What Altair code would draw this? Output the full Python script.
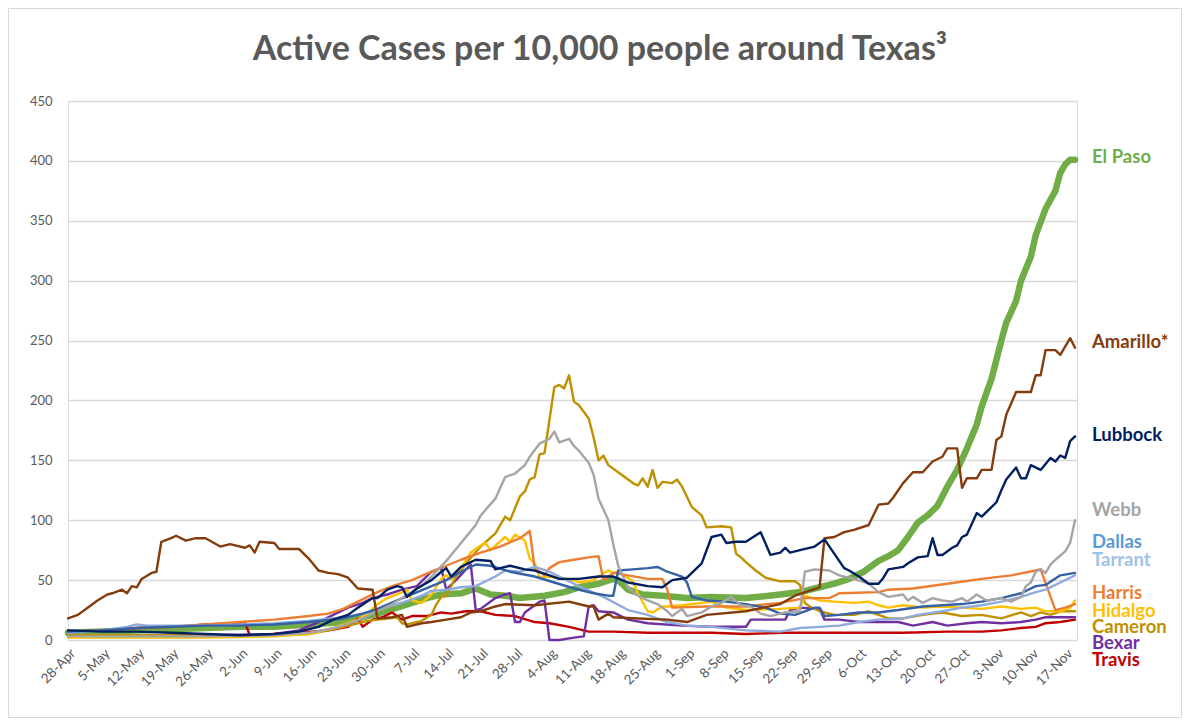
import json
import altair as alt
import pandas as pd

# ---------------- data ----------------
title_text = "Active Cases per 10,000 people around Texas³"
tick_days = [0, 7, 14, 21, 28, 35, 42, 49, 56, 63, 70, 77, 84, 91, 98, 105, 112, 119,
             126, 133, 140, 147, 154, 161, 168, 175, 182, 189, 196, 203]
tick_labels = ["28-Apr", "5-May", "12-May", "19-May", "26-May", "2-Jun", "9-Jun", "16-Jun",
               "23-Jun", "30-Jun", "7-Jul", "14-Jul", "21-Jul", "28-Jul", "4-Aug", "11-Aug",
               "18-Aug", "25-Aug", "1-Sep", "8-Sep", "15-Sep", "22-Sep", "29-Sep", "6-Oct",
               "13-Oct", "20-Oct", "27-Oct", "3-Nov", "10-Nov", "17-Nov"]
y_ticks = [0, 50, 100, 150, 200, 250, 300, 350, 400, 450]

series_names = ["El Paso", "Amarillo*", "Lubbock", "Webb", "Dallas", "Tarrant",
                "Harris", "Hidalgo", "Cameron", "Bexar", "Travis"]

# days since 28-Apr, active cases per 10,000
elpaso_day = [0, 7, 14, 21, 28, 35, 42, 49, 56, 60, 63, 67, 70, 73, 76, 80, 83, 86, 89, 92,
              97, 101, 104, 108, 111, 112, 114, 117, 121, 126, 131, 138, 145, 149, 152, 156,
              159, 162, 165, 167, 169, 171, 173, 175, 177, 179, 181, 183, 185, 186, 188, 190,
              191, 193, 194, 196, 197, 199, 201, 202, 203, 204, 205]
elpaso_val = [6, 7, 8, 9, 10, 11, 11, 13, 15, 19, 22, 27, 31, 35, 38, 39, 43, 38, 37, 35,
              37, 40, 44, 47, 51, 50, 42, 38, 37, 35, 36, 35, 38, 40, 43, 47,
              51, 57, 66, 70, 75, 86, 98, 104, 112, 128, 142, 160, 180, 195, 218, 250,
              265, 283, 300, 320, 338, 360, 375, 390, 397, 401, 401]

amarillo_day = [0, 2, 4, 6, 8, 9, 11, 12, 13, 14, 15, 17, 18, 19, 21, 22, 24, 26, 28, 31,
                33, 36, 37, 38, 39, 42, 43, 47, 49, 51, 53, 55, 57, 59, 62, 63, 66, 68, 69,
                72, 74, 77, 80, 82, 84, 87, 89, 95, 102, 106, 107, 108, 110, 111, 116, 122,
                126, 130, 138, 145, 148, 153, 154, 156, 158, 160, 163, 165, 167, 168, 170,
                172, 174, 176, 178, 179, 181, 182, 183, 185, 186, 188, 189, 190, 191, 193,
                196, 197, 198, 199, 201, 202, 204, 205]
amarillo_val = [18, 21, 27, 33, 38, 39, 42, 39, 45, 44, 51, 56, 57, 82, 85, 87, 83, 85, 85, 78,
                80, 77, 79, 73, 82, 81, 76, 76, 68, 58, 56, 55, 52, 43, 42, 18, 19, 21, 11,
                14, 15, 17, 19, 23, 24, 28, 30, 29, 32, 28, 28, 17, 22, 19, 18, 17,
                15, 21, 24, 30, 37, 44, 85, 86, 90, 92, 96, 113, 114, 119, 131,
                140, 140, 149, 153, 160, 160, 127, 135, 135, 142, 142, 167, 170, 188, 207,
                207, 221, 221, 242, 242, 238, 252, 244]

lubbock_day = [0, 7, 14, 21, 28, 35, 42, 47, 51, 54, 57, 59, 62, 63, 65, 67, 68, 69, 71, 74,
               76, 77, 78, 80, 83, 86, 87, 90, 93, 95, 98, 100, 104, 108, 111, 114, 118, 121,
               123, 126, 129, 131, 133, 134, 136, 138, 141, 143, 145, 146, 147, 149, 152, 154,
               155, 158, 159, 161, 163, 165, 166, 167, 170, 171, 173, 175, 176, 177, 178, 180,
               181, 182, 183, 185, 186, 187, 189, 190, 191, 193, 194, 195, 196, 198, 200, 201,
               202, 203, 204, 205]
lubbock_val = [8, 7, 7, 6, 5, 4, 5, 7, 11, 17, 21, 27, 35, 35, 42, 45, 44, 36, 43, 50,
               57, 60, 53, 61, 67, 66, 59, 62, 59, 58, 54, 51, 51, 53, 53, 48, 45, 44,
               50, 52, 64, 86, 88, 81, 82, 82, 90, 71, 73, 77, 73, 75, 78, 84,
               78, 60, 58, 53, 47, 47, 52, 59, 61, 64, 69, 70, 85, 71, 71, 77,
               79, 86, 88, 106, 103, 107, 115, 125, 134, 144, 135, 135, 146, 142, 152, 149,
               154, 152, 166, 170]

webb_day = [0, 14, 28, 42, 49, 53, 56, 60, 63, 66, 68, 70, 72, 74, 77, 80, 83, 84, 87, 89,
            91, 93, 94, 96, 98, 99, 100, 102, 103, 104, 106, 107, 108, 110, 111, 112, 114,
            116, 118, 120, 122, 123, 125, 126, 129, 131, 133, 135, 137, 139, 141, 143, 146,
            149, 150, 152, 155, 157, 160, 163, 165, 167, 170, 171, 172, 174, 176, 178, 180,
            182, 183, 185, 187, 190, 192, 194, 195, 196, 197, 198, 199, 200, 201, 203, 204, 205]
webb_val = [3, 3, 3, 4, 6, 9, 12, 18, 24, 30, 35, 40, 45, 53, 66, 81, 96, 104, 118, 136,
            139, 146, 153, 164, 168, 174, 165, 168, 162, 158, 148, 138, 118, 100, 80, 62, 44,
            37, 33, 30, 24, 20, 26, 20, 23, 28, 31, 36, 29, 28, 22, 20, 23,
            24, 57, 59, 58, 54, 51, 47, 40, 36, 38, 33, 36, 31, 35, 33, 32,
            35, 32, 38, 33, 35, 32, 36, 45, 48, 57, 59, 56, 63, 67, 74, 81, 100]

dallas_day = [0, 7, 14, 21, 28, 35, 42, 49, 56, 60, 63, 67, 70, 74, 77, 80, 83, 86, 90, 95,
              99, 103, 107, 110, 111, 112, 115, 118, 120, 122, 125, 126, 127, 130, 134, 138,
              142, 145, 148, 150, 152, 153, 154, 157, 161, 165, 169, 174, 178, 182, 186, 190,
              194, 197, 199, 202, 205]
dallas_val = [7, 8, 10, 11, 12, 12, 13, 15, 18, 22, 26, 33, 38, 45, 50, 57, 63, 62, 57, 53,
              48, 43, 39, 37, 37, 58, 59, 60, 61, 57, 53, 48, 36, 33, 32, 30,
              27, 22, 21, 24, 27, 27, 20, 21, 23, 23, 25, 28, 29, 30, 32, 35,
              39, 45, 46, 54, 56]

tarrant_day = [0, 7, 12, 14, 16, 21, 28, 35, 42, 49, 56, 60, 63, 67, 70, 72, 74, 77, 80, 83,
               87, 89, 92, 95, 98, 101, 105, 109, 114, 118, 122, 126, 131, 138, 145, 149, 153,
               157, 161, 165, 170, 173, 178, 182, 186, 190, 194, 197, 199, 202, 205]
tarrant_val = [6, 8, 11, 13, 12, 12, 12, 13, 14, 16, 19, 22, 25, 30, 34, 37, 41, 42, 44, 45,
               53, 58, 57, 61, 57, 51, 43, 36, 25, 21, 15, 12, 11, 8, 7, 10, 11,
               12, 15, 17, 18, 21, 24, 27, 29, 32, 36, 40, 42, 48, 54]

harris_day = [0, 7, 14, 21, 28, 35, 42, 49, 53, 56, 59, 63, 66, 70, 74, 77, 80, 84, 88, 92,
              94, 95, 97, 98, 100, 103, 106, 108, 109, 111, 114, 118, 121, 122, 123, 130, 138,
              145, 150, 155, 157, 165, 167, 172, 179, 186, 192, 197, 198, 201, 203, 205]
harris_val = [7, 8, 10, 11, 13, 15, 17, 20, 22, 26, 32, 40, 45, 50, 57, 62, 67, 73, 78, 85,
              91, 60, 54, 60, 65, 67, 69, 70, 50, 56, 54, 51, 51, 42, 27, 28, 28,
              31, 35, 35, 39, 40, 42, 43, 47, 51, 54, 58, 59, 25, 27, 30]

hidalgo_day = [0, 14, 28, 42, 49, 54, 59, 61, 63, 65, 67, 69, 70, 72, 74, 76, 77, 78, 80, 82,
               84, 85, 86, 89, 90, 91, 93, 94, 95, 96, 98, 100, 103, 104, 107, 108, 110, 111,
               112, 115, 116, 118, 119, 121, 122, 125, 129, 131, 134, 138, 145, 149, 150, 153,
               156, 160, 163, 165, 167, 170, 174, 178, 182, 186, 190, 194, 197, 199, 202, 204, 205]
hidalgo_val = [2, 2, 2, 3, 5, 10, 17, 22, 30, 35, 38, 42, 33, 31, 38, 51, 54, 51, 60, 73,
               79, 81, 75, 86, 82, 88, 83, 68, 64, 52, 53, 52, 50, 48, 50, 53, 58, 56,
               57, 49, 39, 24, 23, 28, 28, 29, 31, 32, 27, 25, 26, 27, 37, 33,
               32, 31, 32, 29, 27, 29, 27, 28, 27, 26, 28, 26, 27, 24, 24, 27, 33]

cameron_day = [0, 14, 28, 42, 49, 53, 56, 59, 61, 63, 65, 67, 68, 69, 72, 74, 75, 76, 77, 79,
               81, 84, 87, 89, 90, 92, 93, 94, 95, 96, 97, 99, 100, 101, 102, 103, 104, 106,
               107, 108, 109, 110, 112, 115, 116, 117, 118, 119, 120, 121, 123, 124, 125, 127,
               129, 130, 133, 135, 136, 137, 138, 140, 142, 145, 148, 149, 150, 151, 153, 156,
               160, 163, 167, 170, 174, 178, 182, 186, 190, 194, 196, 198, 200, 202, 205]
cameron_val = [4, 4, 4, 4, 5, 8, 11, 14, 16, 17, 18, 19, 14, 13, 16, 21, 30, 36, 37, 53,
               64, 78, 89, 103, 100, 120, 124, 134, 136, 155, 156, 211, 213, 210, 221, 199, 196, 185,
               169, 150, 154, 146, 140, 131, 129, 135, 128, 142, 127, 132, 131, 134, 128, 111,
               104, 94, 95, 94, 72, 69, 65, 58, 52, 49, 49, 46, 31, 28, 24, 21,
               21, 24, 18, 18, 21, 23, 20, 21, 18, 23, 20, 23, 21, 24, 24]

bexar_day = [0, 14, 28, 42, 47, 51, 54, 57, 60, 62, 65, 68, 71, 74, 76, 77, 79, 81, 82, 83,
             84, 87, 89, 90, 91, 92, 93, 95, 96, 97, 98, 100, 103, 105, 106, 107, 108, 111,
             114, 118, 125, 131, 138, 139, 146, 147, 149, 153, 154, 157, 161, 165, 169, 172,
             176, 179, 183, 186, 190, 194, 197, 199, 205]
bexar_val = [4, 4, 4, 5, 8, 15, 21, 27, 31, 35, 38, 42, 45, 57, 60, 42, 50, 59, 63, 25,
             26, 35, 38, 39, 15, 15, 23, 29, 32, 33, 0, 0, 2, 3, 28, 29, 24, 23,
             17, 14, 12, 11, 11, 17, 17, 25, 27, 26, 17, 17, 15, 15, 15, 12,
             15, 12, 14, 15, 14, 15, 17, 19, 19]

travis_day = [0, 7, 14, 21, 28, 35, 36, 37, 42, 47, 53, 57, 59, 60, 62, 64, 66, 68, 70, 73,
              76, 78, 81, 84, 87, 91, 95, 98, 102, 106, 111, 118, 125, 131, 138, 145, 160,
              170, 179, 186, 190, 194, 197, 199, 202, 205]
travis_val = [7, 8, 10, 11, 13, 14, 15, 4, 5, 6, 8, 11, 18, 11, 17, 19, 23, 17, 20, 20,
              23, 22, 24, 24, 21, 20, 15, 14, 11, 7, 7, 6, 6, 6, 5, 6, 6,
              6, 7, 7, 8, 10, 11, 14, 15, 17]

# ---------------- styling ----------------
line_colors = ["#70AD47", "#843C0C", "#002060", "#A5A5A5", "#3561A6", "#8FAADC",
               "#ED7D31", "#FFC000", "#BF9000", "#7030A0", "#C00000"]
label_colors = ["#70AD47", "#843C0C", "#002060", "#A5A5A5", "#5B9BD5", "#9DC3E6",
                "#ED7D31", "#FFC000", "#BF9000", "#7030A0", "#C00000"]
label_y_px = [56, 241, 334, 409, 441, 459, 492, 510, 526, 542, 559]
draw_order = ["El Paso", "Travis", "Bexar", "Cameron", "Hidalgo", "Harris", "Tarrant",
              "Dallas", "Webb", "Amarillo*", "Lubbock"]

FONT = "Lato"
W, H = 1009, 539
X_MAX = 205.4

series_data = {
    "El Paso": (elpaso_day, elpaso_val),
    "Amarillo*": (amarillo_day, amarillo_val),
    "Lubbock": (lubbock_day, lubbock_val),
    "Webb": (webb_day, webb_val),
    "Dallas": (dallas_day, dallas_val),
    "Tarrant": (tarrant_day, tarrant_val),
    "Harris": (harris_day, harris_val),
    "Hidalgo": (hidalgo_day, hidalgo_val),
    "Cameron": (cameron_day, cameron_val),
    "Bexar": (bexar_day, bexar_val),
    "Travis": (travis_day, travis_val),
}

label_expr = json.dumps(tick_labels) + "[round(datum.value / 7)]"

x_enc = alt.X("day:Q",
              scale=alt.Scale(domain=[0, X_MAX], nice=False, zero=False),
              axis=alt.Axis(values=tick_days, labelExpr=label_expr, labelAngle=-45,
                            grid=False, domain=False, ticks=False, tickSize=0,
                            labelPadding=6, labelFontSize=13.5, labelColor="#595959",
                            labelFont=FONT, title=None, labelOverlap=False))
y_enc = alt.Y("value:Q",
              scale=alt.Scale(domain=[0, 450], nice=False),
              axis=alt.Axis(values=y_ticks, grid=True, gridColor="#D9D9D9", gridWidth=1.3,
                            domain=False, ticks=False, tickSize=0, labelPadding=16,
                            labelFontSize=13, labelColor="#595959", labelFont=FONT,
                            title=None))

layers = []
for name in draw_order:
    i = series_names.index(name)
    d, v = series_data[name]
    df = pd.DataFrame({"day": d, "value": v, "series": name})
    sw = 6.5 if name == "El Paso" else 2.4
    layers.append(
        alt.Chart(df).mark_line(color=line_colors[i], strokeWidth=sw,
                                strokeJoin="round", strokeCap="round")
        .encode(x=x_enc, y=y_enc)
    )

lab_df = pd.DataFrame({"name": series_names, "py": label_y_px, "tc": label_colors})
labels = alt.Chart(lab_df).mark_text(align="left", baseline="middle", font=FONT,
                                     fontWeight="bold", fontSize=18.5).encode(
    x=alt.value(W + 15),
    y=alt.Y("py:Q", scale=None),
    text="name:N",
    color=alt.Color("tc:N", scale=None),
)

title_df = pd.DataFrame({"t": [title_text]})
title = alt.Chart(title_df).mark_text(align="center", baseline="middle", font=FONT,
                                      fontWeight="bold", fontSize=34,
                                      color="#595959").encode(
    x=alt.value(532), y=alt.value(-51), text="t:N")

frame = alt.Chart(pd.DataFrame({"a": [0]})).mark_rect(
    fill=None, stroke="#D9D9D9", strokeWidth=1).encode(
    x=alt.value(-59.5), x2=alt.value(W + 104.5),
    y=alt.value(-92.5), y2=alt.value(H + 77.5))

chart = alt.layer(*layers, labels, title, frame).properties(
    width=W, height=H,
    autosize=alt.AutoSizeParams(type="none"),
    padding={"left": 60, "top": 93, "right": 105, "bottom": 78},
).configure_view(stroke=None).configure(background="white")

chart.save("out.html", embed_options={"renderer": "svg", "actions": False})
